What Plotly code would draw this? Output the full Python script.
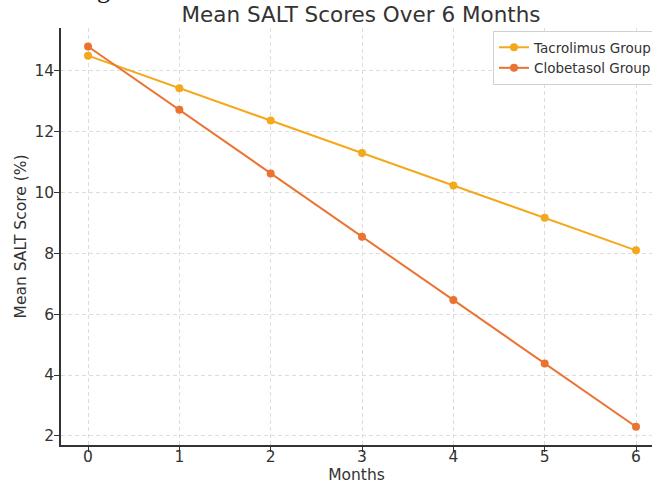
import plotly.graph_objects as go

months = [0, 1, 2, 3, 4, 5, 6]
tacrolimus = [14.5, 13.43, 12.37, 11.3, 10.23, 9.17, 8.1]
clobetasol = [14.8, 12.72, 10.63, 8.55, 6.47, 4.38, 2.3]
y_ticks = [2, 4, 6, 8, 10, 12, 14]

W, H = 652, 487
L, T, B, R = 61, 28, 42, 0
ph = H - T - B
pw = W - L - R

fig = go.Figure()
fig.add_trace(go.Scatter(x=months, y=tacrolimus, mode="lines+markers", name="Tacrolimus Group",
                         line=dict(color="#f5a81c", width=2), marker=dict(size=8, color="#f5a81c")))
fig.add_trace(go.Scatter(x=months, y=clobetasol, mode="lines+markers", name="Clobetasol Group",
                         line=dict(color="#eb7331", width=2), marker=dict(size=8, color="#eb7331")))

font = "DejaVu Sans"
fig.update_layout(
    width=W, height=H,
    margin=dict(l=L, r=R, t=T, b=B, autoexpand=False),
    plot_bgcolor="white", paper_bgcolor="white",
    font=dict(family=font, size=15, color="#333333"),
    title=dict(text="Mean SALT Scores Over 6 Months", font=dict(family=font, size=21.5, color="#333333"),
               x=361 / W, xanchor="center", xref="container",
               y=1 - 14 / H, yanchor="middle", yref="container"),
    legend=dict(x=(493 - L) / pw, y=1 - (31 - T) / ph, xanchor="left", yanchor="top",
                bgcolor="rgba(255,255,255,0.9)", bordercolor="#d0d0d0", borderwidth=1,
                font=dict(family=font, size=13.5, color="#333333"), tracegroupgap=0),
    showlegend=True,
)
fig.update_xaxes(
    range=[-0.296, -0.296 + pw / 91.33], tickvals=months, ticks="outside", ticklen=5, tickcolor="#333333",
    ticklabelstandoff=-8,
    showline=True, linecolor="#333333", linewidth=1.5, mirror=False,
    showgrid=True, gridcolor="#dddddd", griddash="4px,3px", gridwidth=1, zeroline=False,
    title=dict(text="Months", font=dict(family=font, size=15.5, color="#333333"), standoff=2),
    tickfont=dict(family=font, size=15.5, color="#333333"),
)
fig.update_yaxes(
    range=[1.70, 15.41], tickvals=y_ticks, ticks="outside", ticklen=5, tickcolor="#333333",
    ticklabelstandoff=-3,
    showline=True, linecolor="#333333", linewidth=1.5,
    showgrid=True, gridcolor="#dddddd", griddash="4px,3px", gridwidth=1, zeroline=False,
    title=dict(text="Mean SALT Score (%)", font=dict(family=font, size=15.5, color="#333333"), standoff=4),
    tickfont=dict(family=font, size=15.5, color="#333333"),
)
fig.add_annotation(text="g", x=(103 - L) / pw, y=1 + (T - 6) / ph, xref="paper", yref="paper",
                   xanchor="center", yanchor="bottom", showarrow=False,
                   font=dict(family="Liberation Serif", size=26, color="#111111"))

fig.write_html("out.html", config={"displayModeBar": False},
               post_script="document.body.style.margin='0';document.body.style.overflow='hidden';")
